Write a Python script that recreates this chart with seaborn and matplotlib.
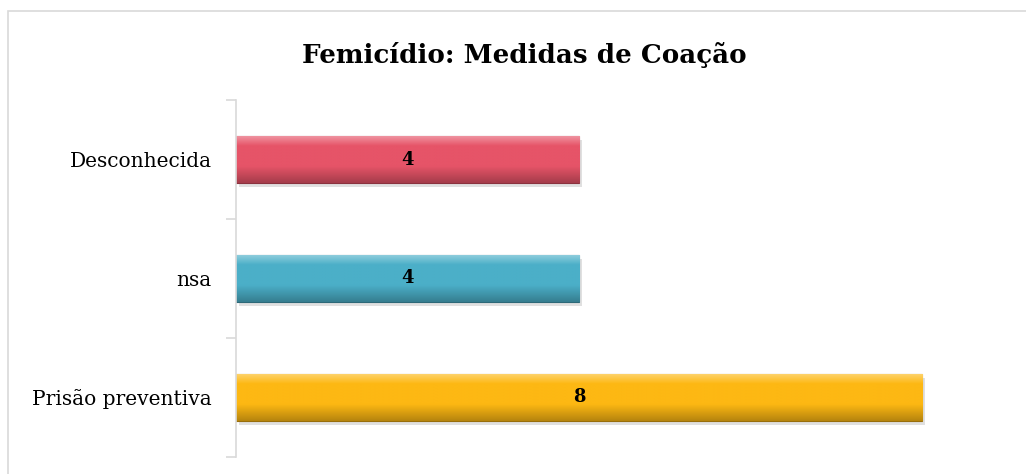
import numpy as np
import pandas as pd
import matplotlib
matplotlib.use("Agg")
import matplotlib.pyplot as plt
import matplotlib.colors as mcolors
import seaborn as sns

# chart data
categories = ["Desconhecida", "nsa", "Prisão preventiva"]
values = [4, 4, 8]
bar_colors = ["#E65468", "#4BAFC8", "#FDB813"]
title = "Femicídio: Medidas de Coação"

df = pd.DataFrame({"categoria": categories, "valor": values})

sns.set_style("white")
plt.rcParams["font.family"] = ["DejaVu Serif", "Liberation Serif"]
plt.rcParams["text.color"] = "black"
plt.rcParams["ytick.labelcolor"] = "black"

fig = plt.figure(figsize=(10.26, 4.74), dpi=100)
ax = fig.add_axes([0.230, 0.036, 0.7524, 0.753])

sns.barplot(data=df, y="categoria", x="valor", hue="categoria",
            palette=bar_colors, orient="h", width=0.4, legend=False,
            saturation=1, ax=ax)

# shade each bar with a vertical gradient (light top, dark bottom) for the bevel look
for patch, col in zip(ax.patches, bar_colors):
    x0, y0 = patch.get_x(), patch.get_y()
    w, h = patch.get_width(), patch.get_height()
    base = np.array(mcolors.to_rgb(col))
    light = base + (1 - base) * 0.4
    dark = base * 0.72
    t = np.linspace(0, 1, 64)[:, None]
    grad = np.where(t < 0.22, light + (base - light) * (t / 0.22),
                    base + (dark - base) * np.clip((t - 0.65) / 0.35, 0, 1))
    img = grad[:, None, :].repeat(2, axis=1)
    # soft shadow under the bar
    ax.add_patch(plt.Rectangle((x0 + 0.03, y0 + 0.035), w, h, color="#000000",
                               alpha=0.12, zorder=1, lw=0))
    im = ax.imshow(img, extent=[x0, x0 + w, y0 + h, y0], aspect="auto",
                   zorder=2, interpolation="bilinear")
    im.set_clip_path(patch)
    patch.set_edgecolor(tuple(base * 0.6))
    patch.set_linewidth(0.8)
    patch.set_zorder(2)
    ax.text(x0 + w / 2, y0 + h / 2, f"{int(w)}", ha="center", va="center",
            fontsize=13, fontweight="bold", color="black", zorder=3)

ax.set_xlim(0, 9)
ax.set_ylim(2.5, -0.5)
ax.set_xlabel("")
ax.set_ylabel("")
ax.set_xticks([])
ax.tick_params(axis="y", which="major", left=False, labelsize=14.5, pad=14)
ax.set_yticks([-0.5, 0.5, 1.5, 2.5], minor=True)
ax.tick_params(axis="y", which="minor", left=True, length=7, color="#D9D9D9",
               width=1.2)

for side in ["top", "right", "bottom"]:
    ax.spines[side].set_visible(False)
ax.spines["left"].set_color("#D9D9D9")
ax.spines["left"].set_linewidth(1.2)

fig.text(0.511, 0.884, title, ha="center", va="center", fontsize=18.8,
         fontweight="bold")

# outer chart frame
fig.add_artist(plt.Rectangle((0.008, -0.05), 1.1, 1.027,
                             transform=fig.transFigure, fill=False,
                             edgecolor="#D9D9D9", lw=1.2))

fig.savefig("out.png", dpi=100)
